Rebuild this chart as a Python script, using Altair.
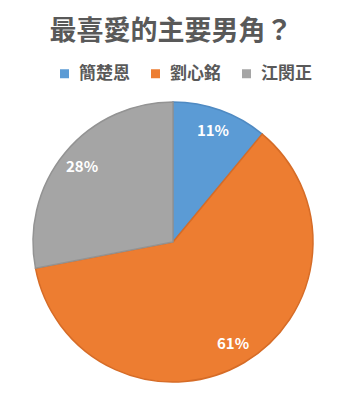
import altair as alt
import pandas as pd

names = ["簡楚恩", "劉心銘", "江閔正"]
values = [11, 61, 28]
labels = ["11%", "61%", "28%"]
order = [0, 1, 2]
colors = ["#5B9BD5", "#ED7D31", "#A5A5A5"]
edge_colors = ["#4F8AC2", "#D66C27", "#939393"]
title_text = "最喜愛的主要男角？"

font = "Noto Sans CJK TC"
df = pd.DataFrame({"name": names, "value": values, "label": labels, "order": order})

base = alt.Chart(df).encode(
    theta=alt.Theta("value:Q", stack=True),
    order=alt.Order("order:Q"),
)

pie = base.mark_arc(outerRadius=140, strokeWidth=1.5).encode(
    x=alt.value(173),
    y=alt.value(242),
    color=alt.Color(
        "name:N",
        sort=names,
        scale=alt.Scale(domain=names, range=colors),
        legend=alt.Legend(
            title=None,
            orient="none",
            direction="horizontal",
            legendX=56,
            legendY=65,
            symbolType="square",
            symbolSize=81,
            symbolStrokeWidth=0,
            labelFont=font,
            labelFontSize=17,
            labelFontWeight="bold",
            labelColor="#595959",
            labelOffset=6,
            labelLimit=200,
            columnPadding=17,
        ),
    ),
    stroke=alt.Stroke("name:N", scale=alt.Scale(domain=names, range=edge_colors), legend=None),
)

text = base.mark_text(
    radius=118, font=font, fontSize=15, fontWeight="bold", color="white"
).encode(
    x=alt.value(173),
    y=alt.value(242),
    text="label:N",
)

title = alt.Chart(pd.DataFrame({"t": [title_text]})).mark_text(
    font=font, fontSize=27, fontWeight="bold", color="#595959", align="center", baseline="middle"
).encode(x=alt.value(171), y=alt.value(32), text="t:N")

chart = alt.layer(pie, text, title).properties(
    width=344,
    height=408,
    autosize=alt.AutoSizeParams(type="none"),
    padding=0,
    background="white",
).configure_view(stroke=None)

chart.save("out.html", embed_options={"renderer": "svg", "actions": False})
